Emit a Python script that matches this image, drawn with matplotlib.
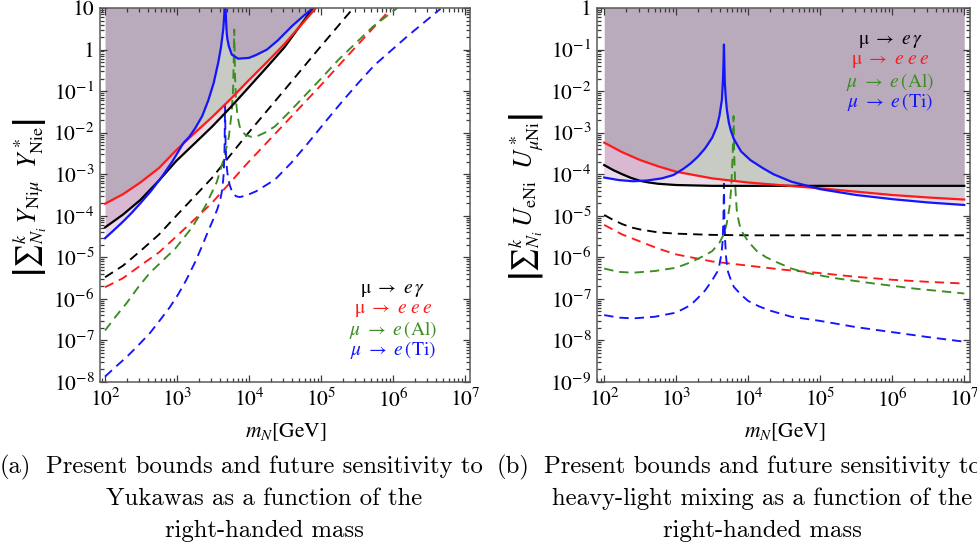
import itertools
import numpy as np
import matplotlib
matplotlib.use("Agg")
import matplotlib.pyplot as plt
from matplotlib.ticker import FixedLocator, FixedFormatter, LogLocator, NullFormatter

plt.rcParams['mathtext.fontset'] = 'stix'
plt.rcParams['font.family'] = ['STIXGeneral', 'DejaVu Serif']

# ---------------- (a) Yukawa couplings vs m_N (log10 values) ----------------
# present bounds (solid)
a_meg_lm = [2.0, 2.25, 2.49, 2.75, 2.99, 3.25, 3.49, 3.75, 3.99, 4.25, 4.49, 4.89]
a_meg_ly = [-4.28, -3.97, -3.62, -3.15, -2.68, -2.25, -1.85, -1.38, -0.92, -0.42, 0.05, 1.0]
a_m3e_lm = [2.0, 2.25, 2.49, 2.75, 2.99, 3.25, 3.49, 3.75, 3.99, 4.25, 4.49, 4.93]
a_m3e_ly = [-3.71, -3.48, -3.2, -2.85, -2.42, -2.0, -1.62, -1.18, -0.75, -0.3, 0.13, 1.0]
a_ti_lm = [2.0, 2.12, 2.25, 2.37, 2.49, 2.64, 2.79, 2.94, 3.088, 3.17, 3.25, 3.35,
           3.435, 3.51, 3.574, 3.61, 3.643, 3.657, 3.667, 3.675, 3.68, 3.69, 3.70,
           3.72, 3.76, 3.85, 4.0, 4.1, 4.25, 4.4, 4.6, 4.75, 4.89]
a_ti_ly = [-4.54, -4.35, -4.14, -3.93, -3.7, -3.4, -3.06, -2.68, -2.25, -2.1, -1.9, -1.6,
           -1.22, -0.8, -0.3, 0.05, 0.5, 0.85, 1.6, 1.0, 0.75, 0.4, 0.25,
           0.08, -0.12, -0.22, -0.2, -0.13, 0.0, 0.22, 0.57, 0.8, 1.0]
# future sensitivities (dashed)
a_meg_f_lm = [2.0, 2.25, 2.49, 2.75, 2.99, 3.48, 3.97, 4.47, 4.96, 5.45]
a_meg_f_ly = [-5.48, -5.2, -4.85, -4.45, -4.0, -3.1, -2.05, -1.02, 0.0, 1.0]
a_m3e_f_lm = [2.0, 2.25, 2.49, 2.75, 2.99, 3.48, 3.97, 4.47, 4.96, 5.45, 5.98]
a_m3e_f_ly = [-5.72, -5.5, -5.2, -4.88, -4.5, -3.7, -2.75, -1.83, -0.93, 0.0, 1.0]
a_al_f_lm = [2.0, 2.15, 2.3, 2.46, 2.62, 2.8, 2.98, 3.2, 3.39, 3.55, 3.66, 3.72, 3.76,
             3.78, 3.795, 3.805, 3.82, 3.84, 3.87, 3.91, 3.95, 4.03, 4.12, 4.22, 4.36,
             4.55, 4.77, 5.0, 5.24, 5.48, 5.72, 6.06]
a_al_f_ly = [-6.76, -6.42, -6.1, -5.72, -5.38, -5.08, -4.78, -4.3, -3.78, -3.2, -2.57,
             -2.1, -1.5, -0.9, 0.48, -0.6, -1.25, -1.6, -1.85, -1.98, -2.05, -2.1, -2.08,
             -2.0, -1.85, -1.52, -1.12, -0.7, -0.25, 0.15, 0.55, 1.0]
a_ti_f_lm = [2.0, 2.15, 2.3, 2.46, 2.62, 2.76, 2.9, 3.02, 3.13, 3.25, 3.35, 3.43, 3.5,
             3.56, 3.6, 3.63, 3.648, 3.66, 3.667, 3.675, 3.685, 3.70, 3.73, 3.77, 3.82,
             3.87, 3.95, 4.10, 4.36, 4.59, 4.82, 5.05, 5.28, 5.51, 5.74, 6.20, 6.66]
a_ti_f_ly = [-7.87, -7.63, -7.4, -7.12, -6.83, -6.52, -6.2, -5.88, -5.54, -5.12, -4.72,
             -4.38, -4.1, -3.84, -3.62, -3.35, -3.0, -2.4, -1.35, -2.3, -2.7, -2.97,
             -3.25, -3.45, -3.53, -3.55, -3.52, -3.41, -3.13, -2.72, -2.25, -1.76,
             -1.28, -0.82, -0.38, 0.32, 0.98]

# ---------------- (b) heavy-light mixing vs m_N (log10 values) ----------------
b_meg_lm = [2.0, 2.125, 2.25, 2.375, 2.5, 2.625, 2.75, 3.0, 3.5, 4.0, 5.0, 6.0, 7.0]
b_meg_ly = [-3.78, -3.9, -4.0, -4.09, -4.16, -4.2, -4.23, -4.26, -4.28, -4.28, -4.28, -4.28, -4.28]
b_m3e_lm = [2.0, 2.25, 2.5, 2.75, 3.0, 3.5, 4.0, 4.5, 5.0, 5.5, 6.0, 6.5, 7.0]
b_m3e_ly = [-3.24, -3.47, -3.66, -3.81, -3.94, -4.1, -4.2, -4.27, -4.34, -4.42, -4.5, -4.56, -4.61]
b_ti_lm = [2.0, 2.2, 2.4, 2.6, 2.8, 2.96, 3.1, 3.2, 3.3, 3.4, 3.5, 3.565, 3.6, 3.635,
           3.65, 3.658, 3.663, 3.668, 3.675, 3.69, 3.704, 3.73, 3.76, 3.8, 3.9, 4.03,
           4.2, 4.35, 4.6, 5.0, 5.5, 6.0, 6.5, 7.0]
b_ti_ly = [-4.08, -4.14, -4.17, -4.15, -4.1, -4.02, -3.87, -3.74, -3.58, -3.38, -3.12,
           -2.85, -2.6, -2.2, -1.7, -1.25, -0.88, -1.3, -1.8, -2.2, -2.45, -2.75, -2.96,
           -3.15, -3.45, -3.66, -3.85, -4.0, -4.18, -4.36, -4.5, -4.6, -4.68, -4.74]
b_meg_f_lm = [2.0, 2.125, 2.25, 2.375, 2.5, 2.75, 3.0, 3.5, 4.0, 5.0, 6.0, 7.0]
b_meg_f_ly = [-4.98, -5.1, -5.2, -5.28, -5.33, -5.4, -5.43, -5.46, -5.47, -5.47, -5.47, -5.47]
b_m3e_f_lm = [2.0, 2.25, 2.5, 2.75, 3.0, 3.5, 4.0, 4.5, 5.0, 5.5, 6.0, 6.5, 7.0]
b_m3e_f_ly = [-5.22, -5.45, -5.62, -5.79, -5.93, -6.1, -6.2, -6.3, -6.38, -6.47, -6.54, -6.59, -6.63]
b_al_f_lm = [2.0, 2.2, 2.4, 2.7, 3.0, 3.2, 3.4, 3.5, 3.6, 3.66, 3.7, 3.74, 3.765, 3.785,
             3.796, 3.805, 3.82, 3.84, 3.87, 3.9, 4.0, 4.12, 4.25, 4.4, 4.6, 4.8, 5.2,
             5.7, 6.3, 7.0]
b_al_f_ly = [-6.27, -6.35, -6.37, -6.33, -6.25, -6.12, -5.95, -5.85, -5.65, -5.45, -5.2,
             -4.8, -4.3, -3.5, -2.6, -3.5, -4.3, -4.85, -5.15, -5.35, -5.62, -5.85, -6.0,
             -6.12, -6.27, -6.37, -6.5, -6.62, -6.75, -6.87]
b_ti_f_lm = [2.0, 2.2, 2.4, 2.7, 3.0, 3.2, 3.3, 3.4, 3.5, 3.57, 3.6, 3.63, 3.645, 3.655,
             3.663, 3.67, 3.68, 3.69, 3.705, 3.72, 3.76, 3.8, 3.9, 4.0, 4.15, 4.3, 4.6,
             5.0, 5.5, 6.0, 6.5, 7.0]
b_ti_f_ly = [-7.39, -7.45, -7.47, -7.43, -7.33, -7.15, -6.98, -6.8, -6.55, -6.35, -6.18,
             -5.9, -5.6, -5.1, -4.23, -5.1, -5.6, -5.95, -6.2, -6.35, -6.55, -6.71, -6.9,
             -7.05, -7.18, -7.28, -7.43, -7.53, -7.68, -7.8, -7.92, -8.03]

x_ticks = [1e2, 1e3, 1e4, 1e5, 1e6, 1e7]
x_ticklabels = [r'$10^{2}$', r'$10^{3}$', r'$10^{4}$', r'$10^{5}$', r'$10^{6}$', r'$10^{7}$']
a_yticks = [1e1, 1e0, 1e-1, 1e-2, 1e-3, 1e-4, 1e-5, 1e-6, 1e-7, 1e-8]
a_yticklabels = ['10', '1', r'$10^{-1}$', r'$10^{-2}$', r'$10^{-3}$', r'$10^{-4}$',
                 r'$10^{-5}$', r'$10^{-6}$', r'$10^{-7}$', r'$10^{-8}$']
b_yticks = [1e0, 1e-1, 1e-2, 1e-3, 1e-4, 1e-5, 1e-6, 1e-7, 1e-8, 1e-9]
b_yticklabels = ['1', r'$10^{-1}$', r'$10^{-2}$', r'$10^{-3}$', r'$10^{-4}$', r'$10^{-5}$',
                 r'$10^{-6}$', r'$10^{-7}$', r'$10^{-8}$', r'$10^{-9}$']

legend_labels = ['μ $\\rightarrow$ $e\\,\\gamma$',
                 'μ $\\rightarrow$ $e\\;e\\;e$',
                 '$\\mu\\ \\rightarrow\\ e\\,$(Al)',
                 '$\\mu\\ \\rightarrow\\ e\\,$(Ti)']

C_BLACK = '#000000'
C_RED = '#ff1a1a'
C_GREEN = '#3b8c22'
C_BLUE = '#1414ff'
legend_colors = [C_BLACK, C_RED, C_GREEN, C_BLUE]

# shading of the excluded region, keyed by the set of bounds lying below a point
SHADES = {
    frozenset(['meg']): '#ecdce7',
    frozenset(['m3e']): '#ecdce7',
    frozenset(['ti']): '#ecdce7',
    frozenset(['meg', 'ti']): '#d9b9d1',
    frozenset(['meg', 'm3e']): '#c7cbc4',
    frozenset(['m3e', 'ti']): '#d3cdd6',
    frozenset(['meg', 'm3e', 'ti']): '#baabbc',
}


def shade_excluded(ax, bounds):
    grid = np.sort(np.unique(np.concatenate(
        [np.linspace(2.0, 7.0, 4001)] + [np.asarray(lm) for lm, _ in bounds.values()])))
    vals = {k: np.interp(grid, lm, ly, right=6.0) for k, (lm, ly) in bounds.items()}
    names = list(vals)
    for r in range(1, len(names) + 1):
        for S in itertools.combinations(names, r):
            lo = np.max([vals[n] for n in S], axis=0)
            rest = [vals[n] for n in names if n not in S]
            hi = np.min(rest, axis=0) if rest else np.full_like(grid, 6.0)
            ax.fill_between(10 ** grid, 10 ** lo, 10 ** hi, where=hi > lo,
                            interpolate=True, color=SHADES[frozenset(S)],
                            lw=0, zorder=0)


def curve(ax, lm, ly, color, dashed=False):
    x = 10 ** np.asarray(lm)
    y = 10 ** np.asarray(ly)
    if dashed:
        ax.plot(x, y, color=color, lw=1.35, dashes=(5.0, 3.2), zorder=3,
                solid_capstyle='butt', dash_capstyle='butt')
    else:
        ax.plot(x, y, color=color, lw=1.6, zorder=4)


def frame(ax, xlim, ylim, yticks, yticklabels):
    ax.set_xscale('log')
    ax.set_yscale('log')
    ax.set_xlim(*xlim)
    ax.set_ylim(*ylim)
    ax.xaxis.set_major_locator(FixedLocator(x_ticks))
    ax.xaxis.set_major_formatter(FixedFormatter(x_ticklabels))
    ax.xaxis.set_minor_locator(LogLocator(base=10, subs=np.arange(2, 10), numticks=50))
    ax.xaxis.set_minor_formatter(NullFormatter())
    ax.yaxis.set_major_locator(FixedLocator(yticks))
    ax.yaxis.set_major_formatter(FixedFormatter(yticklabels))
    ax.yaxis.set_minor_locator(LogLocator(base=10, subs=np.arange(2, 10), numticks=50))
    ax.yaxis.set_minor_formatter(NullFormatter())
    ax.tick_params(which='both', direction='in', top=True, right=True,
                   colors='#3a3a3a', width=0.9, labelcolor='black', labelsize=15.5)
    ax.tick_params(which='major', length=5.0)
    ax.tick_params(which='minor', length=2.6)
    ax.tick_params(axis='x', which='major', pad=5)
    ax.tick_params(axis='y', which='major', pad=4)
    for s in ax.spines.values():
        s.set_color('#5a5a5a')
        s.set_linewidth(1.1)
        s.set_zorder(6)
    ax.set_axisbelow(False)


fig = plt.figure(figsize=(9.77, 5.54), dpi=100)
axa = fig.add_axes([100 / 977, 1 - 382 / 554, 370 / 977, 374 / 554])
axb = fig.add_axes([597 / 977, 1 - 382 / 554, 373 / 977, 374 / 554])

# panel (a)
shade_excluded(axa, {'meg': (a_meg_lm, a_meg_ly), 'm3e': (a_m3e_lm, a_m3e_ly),
                     'ti': (a_ti_lm, a_ti_ly)})
curve(axa, a_meg_f_lm, a_meg_f_ly, C_BLACK, True)
curve(axa, a_m3e_f_lm, a_m3e_f_ly, C_RED, True)
curve(axa, a_al_f_lm, a_al_f_ly, C_GREEN, True)
curve(axa, a_ti_f_lm, a_ti_f_ly, C_BLUE, True)
curve(axa, a_meg_lm, a_meg_ly, C_BLACK)
curve(axa, a_m3e_lm, a_m3e_ly, C_RED)
curve(axa, a_ti_lm, a_ti_ly, C_BLUE)
frame(axa, (10 ** 1.93, 10 ** 7.07), (1e-8, 1e1), a_yticks, a_yticklabels)

# panel (b)
shade_excluded(axb, {'meg': (b_meg_lm, b_meg_ly), 'm3e': (b_m3e_lm, b_m3e_ly),
                     'ti': (b_ti_lm, b_ti_ly)})
curve(axb, b_meg_f_lm, b_meg_f_ly, C_BLACK, True)
curve(axb, b_m3e_f_lm, b_m3e_f_ly, C_RED, True)
curve(axb, b_al_f_lm, b_al_f_ly, C_GREEN, True)
curve(axb, b_ti_f_lm, b_ti_f_ly, C_BLUE, True)
curve(axb, b_meg_lm, b_meg_ly, C_BLACK)
curve(axb, b_m3e_lm, b_m3e_ly, C_RED)
curve(axb, b_ti_lm, b_ti_ly, C_BLUE)
frame(axb, (10 ** 1.90, 10 ** 7.08), (1e-9, 1e0), b_yticks, b_yticklabels)

# process labels
for ax, x0, ys in [(axa, 0.792, [0.246, 0.1925, 0.139, 0.0856]),
                   (axb, 0.786, [0.910, 0.856, 0.803, 0.749])]:
    for lab, col, yy in zip(legend_labels, legend_colors, ys):
        ax.text(x0, yy, lab, color=col, fontsize=14, ha='center', va='center',
                transform=ax.transAxes, zorder=7)

# axis titles
fig.text(30 / 977, 1 - 197 / 554,
         r'$\left|{\sum}^k_{N_i}\, Y_{\mathrm{Ni}\mu}\ \ Y^*_{\mathrm{Nie}}\right|$',
         rotation=90, ha='center', va='center', fontsize=18.5)
fig.text(527 / 977, 1 - 197 / 554,
         r'$\left|{\sum}^k_{N_i}\, U_{\mathrm{eNi}}\ \ U^*_{\mu\mathrm{Ni}}\right|$',
         rotation=90, ha='center', va='center', fontsize=18.5)
for xc in (286, 785):
    fig.text(xc / 977, 1 - 432 / 554, r'$m_N$[GeV]', ha='center', va='center',
             fontsize=15.5)

# sub-captions
cap_kw = dict(fontfamily='cmr10', fontsize=17.8, va='center')
fig.text(0 / 977, 1 - 467 / 554, '(a)', ha='left', **cap_kw)
fig.text(264 / 977, 1 - 467 / 554, 'Present bounds and future sensitivity to', ha='center', **cap_kw)
fig.text(264 / 977, 1 - 499 / 554, 'Yukawas as a function of the', ha='center', **cap_kw)
fig.text(264 / 977, 1 - 531 / 554, 'right-handed mass', ha='center', **cap_kw)
fig.text(497 / 977, 1 - 467 / 554, '(b)', ha='left', **cap_kw)
fig.text(762 / 977, 1 - 467 / 554, 'Present bounds and future sensitivity to', ha='center', **cap_kw)
fig.text(762 / 977, 1 - 499 / 554, 'heavy-light mixing as a function of the', ha='center', **cap_kw)
fig.text(762 / 977, 1 - 531 / 554, 'right-handed mass', ha='center', **cap_kw)

fig.savefig('out.png', dpi=100, facecolor='white')
